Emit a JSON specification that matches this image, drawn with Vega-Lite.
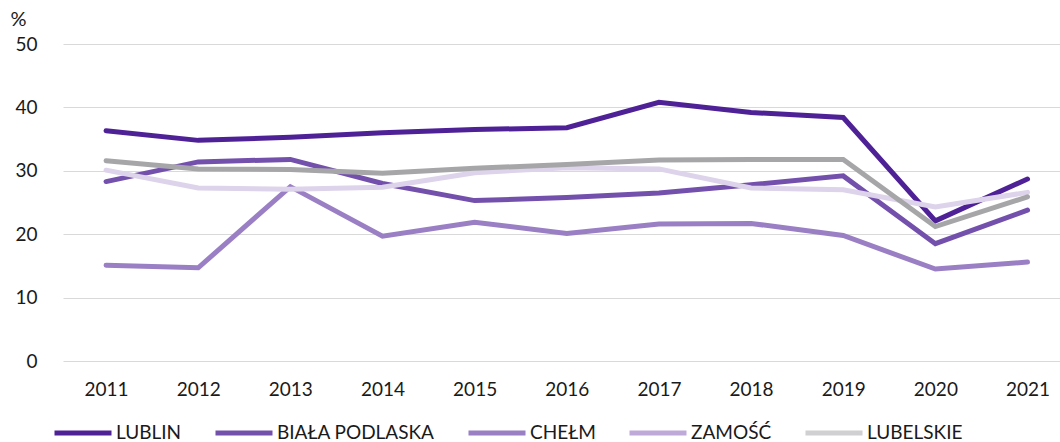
{
  "$schema": "https://vega.github.io/schema/vega-lite/v6.json",
  "width": 997,
  "height": 317,
  "autosize": {"type": "none"},
  "padding": {"left": 63, "top": 44, "right": 0, "bottom": 81},
  "background": "white",
  "config": {
    "view": {"stroke": null},
    "font": "Lato",
    "axis": {"labelFont": "Lato", "titleFont": "Lato", "labelColor": "#1a1a1a", "titleColor": "#1a1a1a"},
    "legend": {"labelFont": "Lato"}
  },
  "data": {
    "values": [
      {"year": "2011", "series": "LUBLIN", "value": 36.3},
      {"year": "2012", "series": "LUBLIN", "value": 34.8},
      {"year": "2013", "series": "LUBLIN", "value": 35.3},
      {"year": "2014", "series": "LUBLIN", "value": 36.0},
      {"year": "2015", "series": "LUBLIN", "value": 36.5},
      {"year": "2016", "series": "LUBLIN", "value": 36.8},
      {"year": "2017", "series": "LUBLIN", "value": 40.8},
      {"year": "2018", "series": "LUBLIN", "value": 39.2},
      {"year": "2019", "series": "LUBLIN", "value": 38.4},
      {"year": "2020", "series": "LUBLIN", "value": 22.1},
      {"year": "2021", "series": "LUBLIN", "value": 28.7},
      {"year": "2011", "series": "BIAŁA PODLASKA", "value": 28.3},
      {"year": "2012", "series": "BIAŁA PODLASKA", "value": 31.4},
      {"year": "2013", "series": "BIAŁA PODLASKA", "value": 31.8},
      {"year": "2014", "series": "BIAŁA PODLASKA", "value": 28.0},
      {"year": "2015", "series": "BIAŁA PODLASKA", "value": 25.3},
      {"year": "2016", "series": "BIAŁA PODLASKA", "value": 25.8},
      {"year": "2017", "series": "BIAŁA PODLASKA", "value": 26.5},
      {"year": "2018", "series": "BIAŁA PODLASKA", "value": 27.8},
      {"year": "2019", "series": "BIAŁA PODLASKA", "value": 29.2},
      {"year": "2020", "series": "BIAŁA PODLASKA", "value": 18.5},
      {"year": "2021", "series": "BIAŁA PODLASKA", "value": 23.8},
      {"year": "2011", "series": "CHEŁM", "value": 15.1},
      {"year": "2012", "series": "CHEŁM", "value": 14.7},
      {"year": "2013", "series": "CHEŁM", "value": 27.5},
      {"year": "2014", "series": "CHEŁM", "value": 19.7},
      {"year": "2015", "series": "CHEŁM", "value": 21.9},
      {"year": "2016", "series": "CHEŁM", "value": 20.1},
      {"year": "2017", "series": "CHEŁM", "value": 21.6},
      {"year": "2018", "series": "CHEŁM", "value": 21.7},
      {"year": "2019", "series": "CHEŁM", "value": 19.8},
      {"year": "2020", "series": "CHEŁM", "value": 14.5},
      {"year": "2021", "series": "CHEŁM", "value": 15.6},
      {"year": "2011", "series": "ZAMOŚĆ", "value": 30.1},
      {"year": "2012", "series": "ZAMOŚĆ", "value": 27.3},
      {"year": "2013", "series": "ZAMOŚĆ", "value": 27.1},
      {"year": "2014", "series": "ZAMOŚĆ", "value": 27.4},
      {"year": "2015", "series": "ZAMOŚĆ", "value": 29.7},
      {"year": "2016", "series": "ZAMOŚĆ", "value": 30.5},
      {"year": "2017", "series": "ZAMOŚĆ", "value": 30.3},
      {"year": "2018", "series": "ZAMOŚĆ", "value": 27.3},
      {"year": "2019", "series": "ZAMOŚĆ", "value": 27.0},
      {"year": "2020", "series": "ZAMOŚĆ", "value": 24.3},
      {"year": "2021", "series": "ZAMOŚĆ", "value": 26.6},
      {"year": "2011", "series": "LUBELSKIE", "value": 31.6},
      {"year": "2012", "series": "LUBELSKIE", "value": 30.3},
      {"year": "2013", "series": "LUBELSKIE", "value": 30.2},
      {"year": "2014", "series": "LUBELSKIE", "value": 29.6},
      {"year": "2015", "series": "LUBELSKIE", "value": 30.4},
      {"year": "2016", "series": "LUBELSKIE", "value": 31.0},
      {"year": "2017", "series": "LUBELSKIE", "value": 31.7},
      {"year": "2018", "series": "LUBELSKIE", "value": 31.8},
      {"year": "2019", "series": "LUBELSKIE", "value": 31.8},
      {"year": "2020", "series": "LUBELSKIE", "value": 21.2},
      {"year": "2021", "series": "LUBELSKIE", "value": 25.9}
    ]
  },
  "encoding": {
    "x": {
      "field": "year",
      "type": "ordinal",
      "scale": {"type": "point", "padding": 0.41, "align": 0.57},
      "axis": {
        "title": null,
        "labelAngle": 0,
        "labelFontSize": 19,
        "labelPadding": 19,
        "ticks": false,
        "domain": false,
        "grid": false
      }
    },
    "y": {
      "field": "value",
      "type": "quantitative",
      "scale": {"domain": [0, 50], "nice": false},
      "axis": {
        "values": [0, 10, 20, 30, 40, 50],
        "title": "%",
        "titleAngle": 0,
        "titleX": -53,
        "titleY": -25,
        "titleAlign": "left",
        "titleBaseline": "middle",
        "titleFontSize": 20,
        "titleFontWeight": "normal",
        "labelFontSize": 19,
        "labelPadding": 26,
        "ticks": false,
        "domain": false,
        "grid": true,
        "gridColor": "#d9d9d9",
        "gridWidth": 1
      }
    }
  },
  "layer": [
    {
      "mark": {"type": "line", "strokeWidth": 5, "strokeCap": "round"},
      "encoding": {
        "color": {
          "field": "series",
          "type": "nominal",
          "scale": {
            "domain": ["LUBLIN", "BIAŁA PODLASKA", "CHEŁM", "ZAMOŚĆ", "LUBELSKIE"],
            "range": ["#4f2196", "#7450ad", "#9a7fc4", "#ddd3ea", "#a6a6a9"]
          },
          "legend": null
        }
      }
    },
    {
      "mark": {"type": "line", "strokeWidth": 5, "opacity": 0},
      "encoding": {
        "color": {
          "field": "series",
          "type": "nominal",
          "scale": {
            "domain": ["LUBLIN", "BIAŁA PODLASKA", "CHEŁM", "ZAMOŚĆ", "LUBELSKIE"],
            "range": ["#4f2196", "#7450ad", "#9a7fc4", "#bfa9d9", "#d0d0d2"]
          },
          "legend": {
            "title": null,
            "orient": "none",
            "direction": "horizontal",
            "legendX": -11,
            "legendY": 358,
            "padding": 0,
            "symbolType": "stroke",
            "symbolSize": 3249,
            "symbolStrokeWidth": 5,
            "symbolOpacity": 1,
            "labelFontSize": 19,
            "labelColor": "#1a1a1a",
            "labelOffset": 2,
            "columnPadding": 23,
            "labelLimit": 300
          }
        }
      }
    }
  ],
  "resolve": {"scale": {"color": "independent"}}
}
